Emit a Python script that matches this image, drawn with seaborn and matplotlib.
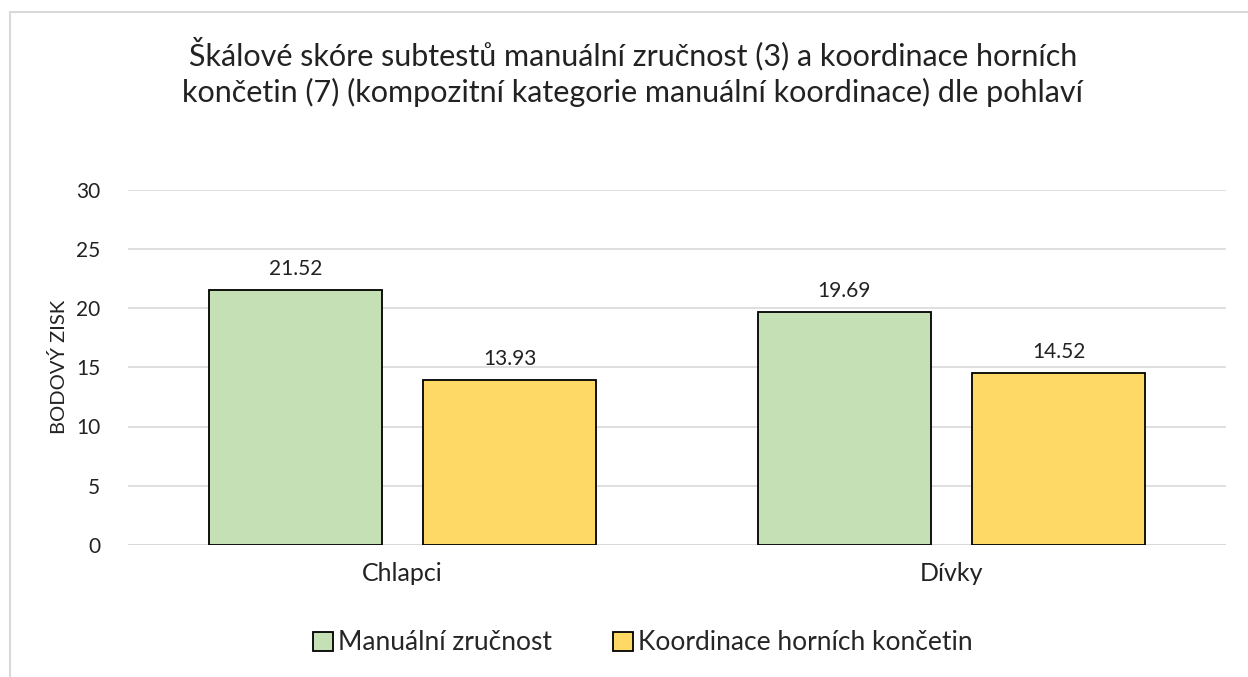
import numpy as np
import pandas as pd
import seaborn as sns
import matplotlib.pyplot as plt
from matplotlib.patches import Rectangle

groups = ["Chlapci", "Dívky"]
series = ["Manuální zručnost", "Koordinace horních končetin"]
manual = [21.52, 19.69]
koord = [13.93, 14.52]
colors = ["#C5E0B4", "#FFD966"]

df = pd.DataFrame({
    "skupina": groups * 2,
    "subtest": [series[0]] * 2 + [series[1]] * 2,
    "skore": manual + koord,
})

sns.set_theme(style="white")
plt.rcParams["font.family"] = ["Lato", "DejaVu Sans"]

fig = plt.figure(figsize=(12.48, 6.77), dpi=100)
ax = fig.add_axes([128 / 1248, 1 - 545 / 677, (1226 - 128) / 1248, (545 - 189.5) / 677])

sns.barplot(data=df, x="skupina", y="skore", hue="subtest", hue_order=series,
            palette=colors, width=0.78, gap=0.19, edgecolor="black", linewidth=1.3,
            saturation=1, ax=ax, legend=True)

for c in ax.containers:
    ax.bar_label(c, labels=[f"{v:.2f}" for v in c.datavalues], padding=8,
                 fontsize=15, color="#222222")

ax.set_ylim(0, 30)
ax.set_yticks(range(0, 31, 5))
ax.yaxis.grid(True, color="#d9d9d9", linewidth=1.2)
ax.set_axisbelow(True)
for s in ax.spines.values():
    s.set_visible(False)
ax.axhline(0, color="#d9d9d9", linewidth=1.2, zorder=0)
ax.tick_params(axis="y", length=0, labelsize=15, pad=20, labelcolor="#222222")
ax.tick_params(axis="x", length=0, labelsize=18, pad=12, labelcolor="#222222")
ax.set_xlabel("")
ax.set_ylabel("BODOVÝ ZISK", fontsize=14.5, labelpad=6, color="#222222")

fig.suptitle("Škálové skóre subtestů manuální zručnost (3) a koordinace horních\n"
             "končetin (7) (kompozitní kategorie manuální koordinace) dle pohlaví",
             x=0.507, y=0.945, fontsize=22, color="#222222", linespacing=1.3)

leg = ax.legend(loc="center", bbox_to_anchor=(643 / 1248, 1 - 643 / 677), bbox_transform=fig.transFigure,
                ncol=2, frameon=False, fontsize=19, handlelength=0.75, handleheight=0.75,
                handletextpad=0.2, columnspacing=2.3)
for h in leg.legend_handles:
    h.set_edgecolor("black")
    h.set_linewidth(1.3)

fig.patches.append(Rectangle((10 / 1248, -0.1), 1.2, 1 - 12 / 677 + 0.1, transform=fig.transFigure,
                             fill=False, edgecolor="#d9d9d9", linewidth=1.5))

fig.savefig("out.png", dpi=100)
